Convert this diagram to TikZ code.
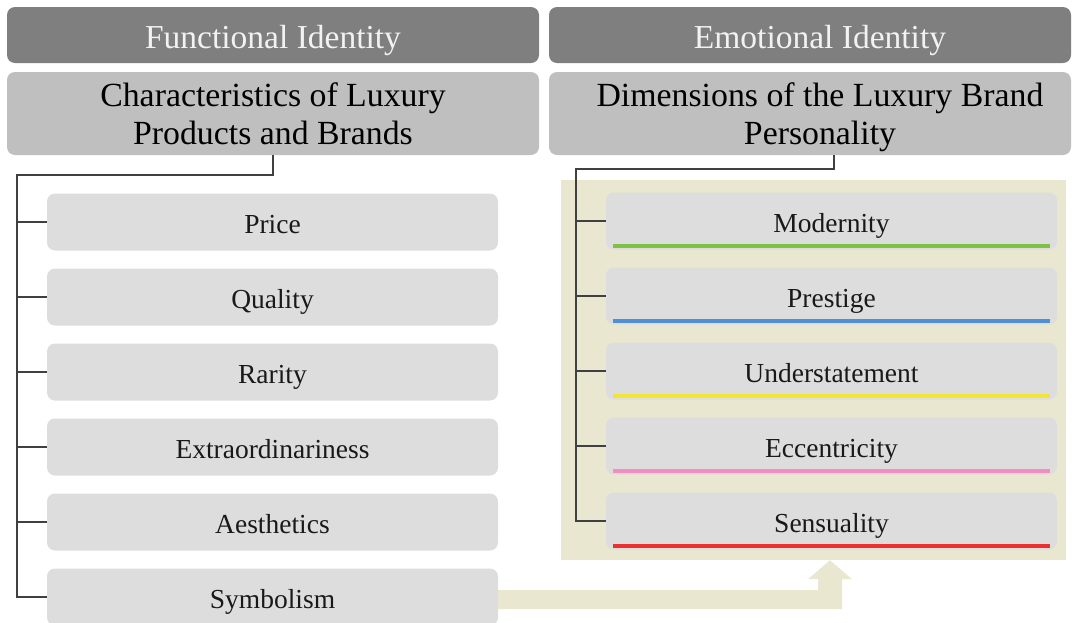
\documentclass[tikz,border=0pt]{standalone}
\usepackage{fontspec}
\setmainfont{Liberation Serif}
\usetikzlibrary{calc}
\definecolor{hdrgray}{HTML}{7F7F7F}
\definecolor{subgray}{HTML}{BFBFBF}
\definecolor{itemgray}{HTML}{DDDDDD}
\definecolor{beige}{HTML}{EAE7D0}
\definecolor{linegray}{HTML}{404040}
\definecolor{cgreen}{HTML}{7DC243}
\definecolor{cblue}{HTML}{4F8FD6}
\definecolor{cyellow}{HTML}{F2E634}
\definecolor{cpink}{HTML}{F28EBF}
\definecolor{cred}{HTML}{EC3030}
\begin{document}
\begin{tikzpicture}[x=1pt,y=-1pt,
  hdrbox/.style={fill=hdrgray, rounded corners=8pt, minimum height=56pt, inner sep=0pt,
    text height=28pt, text depth=2pt,
    text=white!95!black, font=\fontsize{33.5}{38}\selectfont},
  subbox/.style={fill=subgray, rounded corners=8pt, minimum height=83pt, inner sep=0pt,
    text height=72pt, text depth=10pt,
    align=center, font=\fontsize{33.8}{38}\selectfont},
  itembox/.style={fill=itemgray, rounded corners=8pt, minimum width=451pt, minimum height=57pt,
    inner sep=0pt, text height=24pt, text depth=2pt,
    text=black!90, font=\fontsize{27.5}{32}\selectfont},
  tree/.style={draw=linegray, line width=1.4pt},
  uline/.style={line width=4pt}
]
\useasboundingbox (0,0) rectangle (1072,622);
% headers
\node[hdrbox, minimum width=532pt] (h1) at (273,35) {Functional Identity};
\node[hdrbox, minimum width=522pt] (h2) at (810,35) {\hspace*{20pt}Emotional Identity};
\node[subbox, minimum width=532pt] (s1) at (273,113.5) {Characteristics of Luxury\\Products and Brands};
\node[subbox, minimum width=522pt] (s2) at (810,113.5) {\hspace*{20pt}Dimensions of the Luxury Brand\\\hspace*{20pt}Personality};
% beige panel
\node[fill=beige, minimum width=505pt, minimum height=380pt, inner sep=0pt] (panel) at (813.5,370) {};
% left items
\node[itembox] (price) at (272.5,222) {Price};
\node[itembox] (quality) at (272.5,297) {Quality};
\node[itembox] (rarity) at (272.5,372) {Rarity};
\node[itembox] (extra) at (272.5,447) {Extraordinariness};
\node[itembox] (aesth) at (272.5,522) {Aesthetics};
% arrow
\coordinate (tip) at ($(panel.south)+(16.5,0)$);
\fill[beige] ($(aesth.east)+(-1,68)$) -- ($(tip)+(-12,30)$) -- ($(tip)+(-12,19)$) -- ($(tip)+(-22,19)$)
  -- (tip) -- ($(tip)+(22,19)$) -- ($(tip)+(12,19)$) -- ($(tip)+(12,49)$) -- ($(aesth.east)+(-1,87)$) -- cycle;
\node[itembox] (sym) at (272.5,597) {Symbolism};
% right items
\node[itembox] (mod) at (831.5,221) {Modernity};
\node[itembox] (pres) at (831.5,296) {Prestige};
\node[itembox] (under) at (831.5,371) {Understatement};
\node[itembox] (ecc) at (831.5,446) {Eccentricity};
\node[itembox] (sens) at (831.5,521) {Sensuality};
\foreach \n/\c in {mod/cgreen, pres/cblue, under/cyellow, ecc/cpink, sens/cred}{
  \draw[uline, \c] ($(\n.south west)+(7,-3.5)$) -- ($(\n.south east)+(-7,-3.5)$);
}
% left tree
\coordinate (ltrunk) at (17,175);
\draw[tree] (s1.south) |- (ltrunk) -- (ltrunk |- sym.west) -- (sym.west);
\foreach \n in {price, quality, rarity, extra, aesth}{
  \draw[tree] (ltrunk |- \n.west) -- (\n.west);
}
% right tree
\coordinate (rtrunk) at (576,169);
\draw[tree] ([xshift=24pt]s2.south) |- (rtrunk) -- (rtrunk |- sens.west) -- (sens.west);
\foreach \n in {mod, pres, under, ecc}{
  \draw[tree] (rtrunk |- \n.west) -- (\n.west);
}
\end{tikzpicture}
\end{document}
